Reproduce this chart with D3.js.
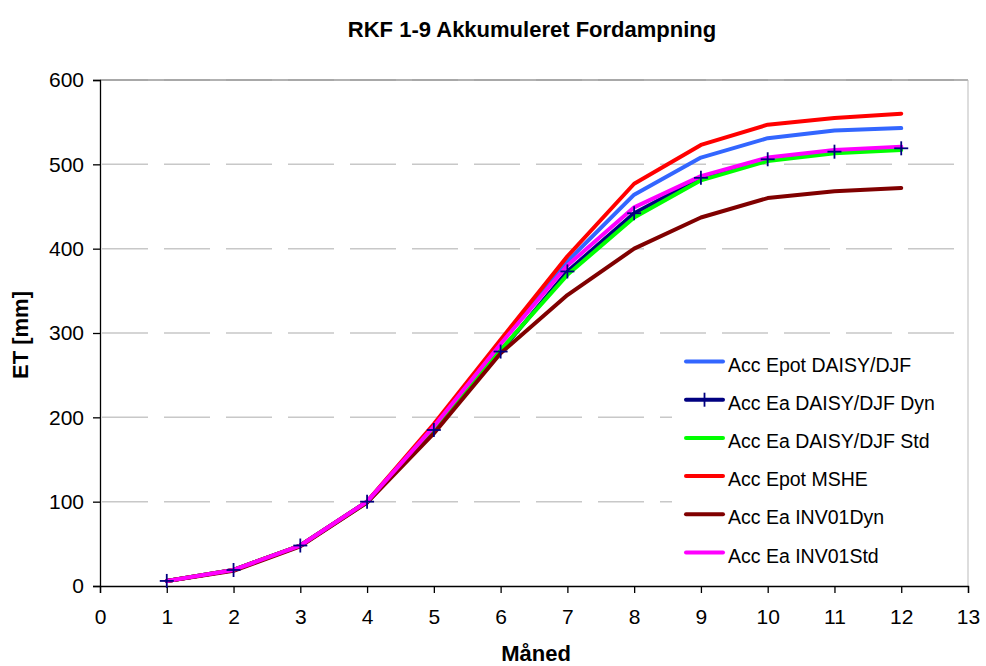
<!DOCTYPE html>
<html><head><meta charset="utf-8">
<script src="https://cdn.jsdelivr.net/npm/d3@7"></script>
<style>body{margin:0;background:#fff;} svg{display:block;font-family:"Liberation Sans",Arial,sans-serif;}</style>
</head><body><svg id="c" width="986" height="666"></svg>
<script>
const months = [1,2,3,4,5,6,7,8,9,10,11,12];
const epotDaisy = [6,19,48,100,190,289,385,464,508,531,540,543];
const eaDaisyDyn = [6,19,48,100,185,278,373,442,484,506,515,519];
const eaDaisyStd = [6,19,48,99,186,280,369,437,481,504,513,517];
const epotMshe = [6,19,48,100,192,292,391,477,523,547,555,560];
const eaInv01Dyn = [6,18,47,99,181,276,345,400,437,460,468,472];
const eaInv01Std = [6,19,48,100,189,287,380,449,486,508,517,521];
const seriesNames = ["Acc Epot DAISY/DJF","Acc Ea DAISY/DJF Dyn","Acc Ea DAISY/DJF Std","Acc Epot MSHE","Acc Ea INV01Dyn","Acc Ea INV01Std"];
const seriesValues = [epotDaisy, eaDaisyDyn, eaDaisyStd, epotMshe, eaInv01Dyn, eaInv01Std];
const seriesColors = ["#3366FF","#000080","#00FF00","#FF0000","#800000","#FF00FF"];
const xTicks = d3.range(0,14);
const yTicks = [0,100,200,300,400,500,600];

const svg = d3.select("#c");
const L=100,R=968,T=80,B=586;
const x = d3.scaleLinear().domain([0,13]).range([L,R]);
const y = d3.scaleLinear().domain([0,600]).range([B,T]);

// gridlines
svg.append("g").selectAll("line").data(yTicks.filter(d=>d>0)).join("line")
  .attr("x1",L+2).attr("x2",R).attr("y1",d=>y(d)).attr("y2",d=>y(d))
  .attr("stroke","#c8c8c8").attr("stroke-width",1.5).attr("stroke-dasharray","46,16");
// plot border right/top
svg.append("line").attr("x1",L).attr("x2",R).attr("y1",T).attr("y2",T).attr("stroke","#999").attr("stroke-width",1.5);
svg.append("line").attr("x1",R).attr("x2",R).attr("y1",T).attr("y2",B).attr("stroke","#bbb").attr("stroke-width",1);

// axes
const xa = svg.append("g").attr("transform",`translate(0,${B})`)
  .call(d3.axisBottom(x).tickValues(xTicks).tickSize(7).tickPadding(16).tickFormat(d3.format("d")));
const ya = svg.append("g").attr("transform",`translate(${L},0)`)
  .call(d3.axisLeft(y).tickValues(yTicks).tickSize(7).tickPadding(9));
[xa,ya].forEach(a=>{a.selectAll("text").attr("font-size",21).attr("fill","#000").attr("font-family","'Liberation Sans',Arial,sans-serif");
  a.selectAll("line,path").attr("stroke","#000").attr("stroke-width",1.3);});

// lines
const line = d3.line().x((d,i)=>x(months[i])).y(d=>y(d));
seriesValues.forEach((vals,k)=>{
  svg.append("path").datum(vals).attr("d",line).attr("fill","none")
    .attr("stroke",seriesColors[k]).attr("stroke-width",4).attr("stroke-linejoin","round").attr("stroke-linecap","round");
});
// markers for Dyn series
const mk = svg.append("g");
eaDaisyDyn.forEach((v,i)=>{
  const cx=x(months[i]), cy=y(v);
  mk.append("line").attr("x1",cx-7).attr("x2",cx+7).attr("y1",cy).attr("y2",cy).attr("stroke","#000080").attr("stroke-width",1.8);
  mk.append("line").attr("x1",cx).attr("x2",cx).attr("y1",cy-7).attr("y2",cy+7).attr("stroke","#000080").attr("stroke-width",1.8);
});

// title & axis titles
svg.append("text").attr("x",532).attr("y",37).attr("text-anchor","middle").attr("font-weight","bold").attr("font-size",22).text("RKF 1-9 Akkumuleret Fordampning");
svg.append("text").attr("x",536).attr("y",661).attr("text-anchor","middle").attr("font-weight","bold").attr("font-size",22).text("Måned");
svg.append("text").attr("transform","translate(28,335) rotate(-90)").attr("text-anchor","middle").attr("font-weight","bold").attr("font-size",22).text("ET [mm]");

// legend
const lg = svg.append("g");
lg.append("rect").attr("x",672).attr("y",343).attr("width",288).attr("height",232).attr("fill","#fff");
seriesNames.forEach((n,k)=>{
  const base = 371.5 + k*38.2;
  const ly = base - 10;
  lg.append("line").attr("x1",686).attr("x2",723).attr("y1",ly).attr("y2",ly).attr("stroke",seriesColors[k]).attr("stroke-width",4).attr("stroke-linecap","round");
  if(k===1) lg.append("line").attr("x1",704.5).attr("x2",704.5).attr("y1",ly-7).attr("y2",ly+7).attr("stroke","#000080").attr("stroke-width",1.8);
  lg.append("text").attr("x",728).attr("y",base).attr("font-size",19.5).text(n);
});
</script></body></html>
